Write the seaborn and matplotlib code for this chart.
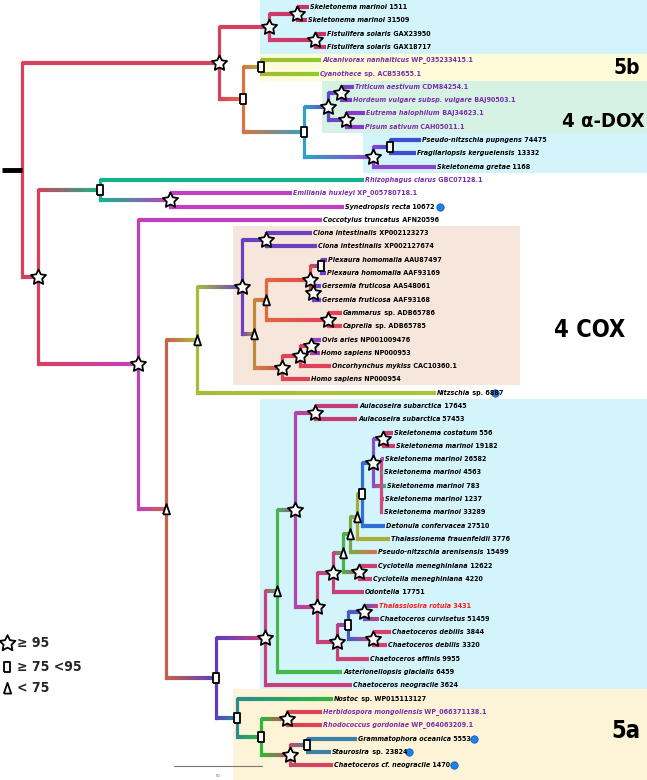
import matplotlib
matplotlib.use("Agg")
import matplotlib.pyplot as plt
from matplotlib.collections import LineCollection
from matplotlib.colors import to_rgb
import numpy as np
import pandas as pd
import seaborn as sns

# ---- leaves, top to bottom ----
leaf_names = [
    "Skeletonema marinoi", "Skeletonema marinoi", "Fistulifera solaris", "Fistulifera solaris",
    "Alcanivorax nanhaiticus", "Cyanothece", "Triticum aestivum", "Hordeum vulgare subsp. vulgare",
    "Eutrema halophilum", "Pisum sativum", "Pseudo-nitzschia pupngens", "Fragilariopsis kerguelensis",
    "Skeletonema gretae", "Rhizophagus clarus", "Emiliania huxleyi", "Synedropsis recta",
    "Coccotylus truncatus", "Ciona intestinalis", "Ciona intestinalis", "Plexaura homomalla",
    "Plexaura homomalla", "Gersemia fruticosa", "Gersemia fruticosa", "Gammarus",
    "Caprella", "Ovis aries", "Homo sapiens", "Oncorhynchus mykiss",
    "Homo sapiens", "Nitzschia", "Aulacoseira subarctica", "Aulacoseira subarctica",
    "Skeletonema costatum", "Skeletonema marinoi", "Skeletonema marinoi", "Skeletonema marinoi",
    "Skeletonema marinoi", "Skeletonema marinoi", "Skeletonema marinoi", "Detonula confervacea",
    "Thalassionema frauenfeldii", "Pseudo-nitzschia arenisensis", "Cyclotella meneghiniana", "Cyclotella meneghiniana",
    "Odontella", "Thalassiosira rotula", "Chaetoceros curvisetus", "Chaetoceros debilis",
    "Chaetoceros debilis", "Chaetoceros affinis", "Asterionellopsis glacialis", "Chaetoceros neogracile",
    "Nostoc", "Herbidospora mongoliensis", "Rhodococcus gordoniae", "Grammatophora oceanica",
    "Staurosira", "Chaetoceros cf. neogracile",
]
leaf_acc = [
    "1511", "31509", "GAX23950", "GAX18717",
    "WP_035233415.1", "sp. ACB53655.1", "CDM84254.1", "BAJ90503.1",
    "BAJ34623.1", "CAH05011.1", "74475", "13332",
    "1168", "GBC07128.1", "XP_005780718.1", "10672",
    "AFN20596", "XP002123273", "XP002127674", "AAU87497",
    "AAF93169", "AAS48061", "AAF93168", "sp. ADB65786",
    "sp. ADB65785", "NP001009476", "NP000953", "CAC10360.1",
    "NP000954", "sp. 6887", "17645", "57453",
    "556", "19182", "26582", "4563",
    "783", "1237", "33289", "27510",
    "3776", "15499", "12622", "4220",
    "17751", "3431", "51459", "3844",
    "3320", "9955", "6459", "3624",
    "sp. WP015113127", "WP_066371138.1", "WP_064063209.1", "5553",
    "sp. 23824", "1470",
]
leaf_tip_x = [
    310, 308, 327, 327, 322, 320, 355, 353, 366, 365, 422, 417, 437, 365, 293, 345,
    323, 313, 318, 328, 327, 322, 322, 343, 343, 322, 321, 332, 311, 437, 359, 358,
    394, 396, 385, 384, 387, 385, 384, 386, 391, 378, 378, 373, 365, 379, 380, 392,
    388, 370, 343, 353, 334, 323, 323, 358, 332, 334,
]
leaf_colors = [
    "#c8336a", "#c8336a", "#c8336a", "#c8336a", "#8fcc2c", "#8fcc2c", "#7b3fc6", "#7b3fc6",
    "#8a3cc8", "#8a3cc8", "#3c4fd0", "#3c4fd0", "#8c44d0", "#12b58a", "#c23fc0", "#c23fc0",
    "#c23fc0", "#6a3fc0", "#6a3fc0", "#7040d0", "#7040d0", "#7040d0", "#7040d0", "#e0405a",
    "#e0405a", "#9040c8", "#9040c8", "#e0405a", "#e0405a", "#a8c43a", "#c43c72", "#c43c72",
    "#d03c70", "#d03c70", "#a050d0", "#30c070", "#30c070", "#d04a80", "#d04a80", "#2f6fd6",
    "#a8ac3a", "#d8704e", "#d0406e", "#d0406e", "#c8407a", "#c8407a", "#c8407a", "#d8406a",
    "#d8406a", "#d0406e", "#44b84a", "#c8407a", "#2cb83a", "#e04452", "#e04452", "#3a80a8",
    "#3a80a8", "#e0405a",
]
purple_leaves = [4, 5, 6, 7, 8, 9, 13, 14, 53, 54]
red_leaves = [45]
dot_leaves = [15, 29, 55, 56, 57]
dot_x = [440, 495, 474, 409, 454]

# ---- internal nodes ----
node_ids = ["R", "A", "B", "B1", "B2", "C", "C1", "C2", "P", "P1", "P2", "Q", "Q1",
            "D", "E", "E1", "F", "G", "H", "J", "K", "L", "M", "M1", "Pl", "Ge", "M2",
            "N", "N1", "N2", "I", "I1", "O", "Pp", "Au", "S", "T", "V", "W2", "W1", "Y",
            "Z", "Z1", "Z2", "Cy", "U", "U1", "U2", "U3", "I2", "I3", "I4", "I5", "I6"]
node_x = [22, 219, 269, 297, 315, 243, 261, 304, 328, 341, 346, 373, 390,
          38, 100, 170, 138, 166, 197, 242, 266, 254, 266, 310, 321, 313, 328,
          282, 300, 311, 216, 265, 277, 295, 315, 317, 333, 343, 350, 357, 362,
          373, 383, 381, 359, 337, 348, 364, 373, 237, 261, 287, 290, 307]
node_children = [
    ["A", "D"], ["B", "C"], ["B1", "B2"], [0, 1], [2, 3], ["C1", "C2"], [4, 5], ["P", "Q"],
    ["P1", "P2"], [6, 7], [8, 9], ["Q1", 12], [10, 11],
    ["E", "F"], [13, "E1"], [14, 15], [16, "G"], ["H", "I"], ["J", 29], ["K", "L"], [17, 18],
    ["M", "N"], ["M1", "M2"], ["Pl", "Ge"], [19, 20], [21, 22], [23, 24],
    ["N1", 28], ["N2", 27], [25, 26], ["I1", "I2"], ["O", 51], ["Pp", 50], ["Au", "S"], [30, 31],
    ["T", "U"], ["V", 44], ["W2", "Cy"], ["W1", 41], ["Y", 40], ["Z", 39],
    ["Z1", "Z2"], [32, 33], [34, 35, 36, 37, 38], [42, 43], ["U1", 49], ["U2", "U3"], [45, 46], [47, 48],
    [52, "I3"], ["I4", "I5"], [53, 54], ["I6", 57], [55, 56],
]
node_support = [None, "star", "star", "star", "star", "square", "square", "square", "star", "star", "star", "star", "square",
                "star", "square", "star", "star", "triangle", "triangle", "star", "star", "triangle", "triangle", "star", "square", "star", "star",
                "star", "star", "star", "square", "star", "triangle", "star", "star", "star", "star", "triangle", "triangle", "triangle", "square",
                "star", "star", None, "star", "star", "square", "star", "star", "square", "square", "star", "star", "square"]
node_colors = ["#d6415e", "#d6415e", "#d23c68", "#c8336a", "#c8336a", "#d9733e", "#a3b83a", "#2fa3c4", "#5a4ac8", "#7b3fc6", "#8a3cc8", "#8c44d0", "#3c4fd0",
               "#d6415e", "#12b58a", "#c23fc0", "#c23fc0", "#c8604a", "#a8bc3a", "#6a3fc0", "#6a3fc0", "#c08a3a", "#e06a3a", "#e04848", "#7040d0", "#7040d0", "#e0405a",
               "#d84a55", "#e0405a", "#b040b0", "#5a3ec0", "#c8407a", "#44b84a", "#b044b0", "#c43c72", "#c8407a", "#c8407a", "#48b44a", "#7aa848", "#a8ac3a", "#2f6fd6",
               "#8050c8", "#d03c70", "#d04a80", "#d0406e", "#c8407a", "#3f5fd0", "#6a50c0", "#d8406a", "#2a8a90", "#2cb83a", "#d04858", "#c84a6a", "#3a80a8"]

# shaded clade boxes: x0, x1, y0, y1 (leaf units), colour
boxes = [
    (260, 647, -0.6, 3.5, "#d3f4fb"),
    (260, 647, 3.5, 5.6, "#fdfbd8"),
    (322, 647, 5.6, 9.5, "#d6f2e4"),
    (363, 647, 9.5, 12.45, "#d3f4fb"),
    (233, 520, 16.5, 28.45, "#f6e6dc"),
    (260, 647, 29.45, 51.3, "#d3f4fb"),
    (233, 647, 51.3, 58.3, "#fdf4d8"),
]
group_labels = [("5b", 640, 4.6, 15), ("4 α-DOX", 645, 8.6, 14.5), ("4 COX", 625, 24.3, 17), ("5a", 640, 54.4, 17)]

sns.set_theme(style="white")
plt.rcParams["font.family"] = ["Liberation Sans Narrow", "DejaVu Sans"]
plt.rcParams["font.stretch"] = "condensed"

fig = plt.figure(figsize=(6.47, 7.80), dpi=100)
ax = fig.add_axes([0, 0, 1, 1])

idx = {n: k for k, n in enumerate(node_ids)}
node_y = {}


def get_y(c):
    if isinstance(c, int):
        return float(c)
    if c not in node_y:
        ys = [get_y(ch) for ch in node_children[idx[c]]]
        node_y[c] = (ys[0] + ys[-1]) / 2
    return node_y[c]


def end_x(c):
    return leaf_tip_x[c] - 1.5 if isinstance(c, int) else node_x[idx[c]]


def colour(c):
    return leaf_colors[c] if isinstance(c, int) else node_colors[idx[c]]


for x0, x1, y0, y1, col in boxes:
    ax.fill_between([x0, x1], y0, y1, color=col, lw=0, zorder=0)

# branches: vertical connector in node colour, horizontal branch as a gradient
h_segs, h_cols, v_segs, v_cols = [], [], [], []
for k, n in enumerate(node_ids):
    x = node_x[k]
    kids = node_children[k]
    ys = [get_y(c) for c in kids]
    v_segs.append([(x, min(ys)), (x, max(ys))])
    v_cols.append(node_colors[k])
    c0 = np.array(to_rgb(node_colors[k]))
    for c in kids:
        c1 = np.array(to_rgb(colour(c)))
        xs = np.linspace(x, end_x(c), 13)
        yc = get_y(c)
        for j in range(12):
            t = (j + 0.5) / 12
            h_segs.append([(xs[j], yc), (xs[j + 1], yc)])
            h_cols.append(tuple(c0 * (1 - t) + c1 * t))

ax.add_collection(LineCollection(v_segs, colors=v_cols, linewidths=2.3, capstyle="projecting", zorder=1))
ax.add_collection(LineCollection(h_segs, colors=h_cols, linewidths=3.0, capstyle="butt", zorder=2))
ax.plot([2, 22], [get_y("R")] * 2, color="black", lw=3.5, solid_capstyle="butt", zorder=2)

# support markers
star_m = (5, 1, 0)
rect_m = [(-0.6, -1), (0.6, -1), (0.6, 1), (-0.6, 1), (-0.6, -1)]
tri_m = [(-0.65, -0.9), (0.65, -0.9), (0, 1), (-0.65, -0.9)]
node_df = pd.DataFrame({"x": node_x, "y": [get_y(n) for n in node_ids], "support": node_support})
marker_spec = [("star", star_m, 130), ("square", rect_m, 50), ("triangle", tri_m, 60)]
for sup, mk, sz in marker_spec:
    sub = node_df[node_df["support"] == sup]
    sns.scatterplot(data=sub, x="x", y="y", marker=mk, s=sz, color="white",
                    edgecolor="black", linewidth=1.3, ax=ax, zorder=5, legend=False)

# blue dots
sns.scatterplot(x=dot_x, y=[float(i) for i in dot_leaves], s=28, color="#1f82e8",
                edgecolor="#0b5cbf", linewidth=0.6, ax=ax, zorder=5, legend=False)

# leaf labels
for i, name in enumerate(leaf_names):
    tc = "#7a2ea8" if i in purple_leaves else ("#ff1a1a" if i in red_leaves else "black")
    t = ax.text(leaf_tip_x[i], i, name, fontsize=5.1, fontweight="bold", fontstyle="italic",
                color=tc, va="center", ha="left", zorder=6)
    ax.annotate(" " + leaf_acc[i], xy=(1, 0), xycoords=t, va="bottom", ha="left",
                fontsize=5.1, fontweight="bold", color=tc, zorder=6)

for txt, x, y, fs in group_labels:
    ax.text(x, y, txt, fontsize=fs, fontweight="bold", ha="right", va="center", color="black")

# legend for support values
leg_y = [47.8, 49.6, 51.2]
leg_txt = ["≥ 95", "≥ 75 <95", "< 75"]
for (sup, mk, sz), y, txt in zip(marker_spec, leg_y, leg_txt):
    sns.scatterplot(x=[7], y=[y], marker=mk, s=sz * 1.1, color="white", edgecolor="black",
                    linewidth=1.3, ax=ax, zorder=5, legend=False)
    ax.text(17, y, txt, fontsize=10, fontweight="bold", va="center", ha="left")

# scale bar
ax.plot([174, 262], [57.1, 57.1], color="#777777", lw=0.8)
ax.text(218, 57.8, "50", fontsize=3, ha="center", va="center", color="#555555")

ax.set_xlim(0, 647)
ax.set_ylim((780 - 7) / 13.3, -7 / 13.3)
ax.axis("off")
fig.savefig("out.png", dpi=100)
